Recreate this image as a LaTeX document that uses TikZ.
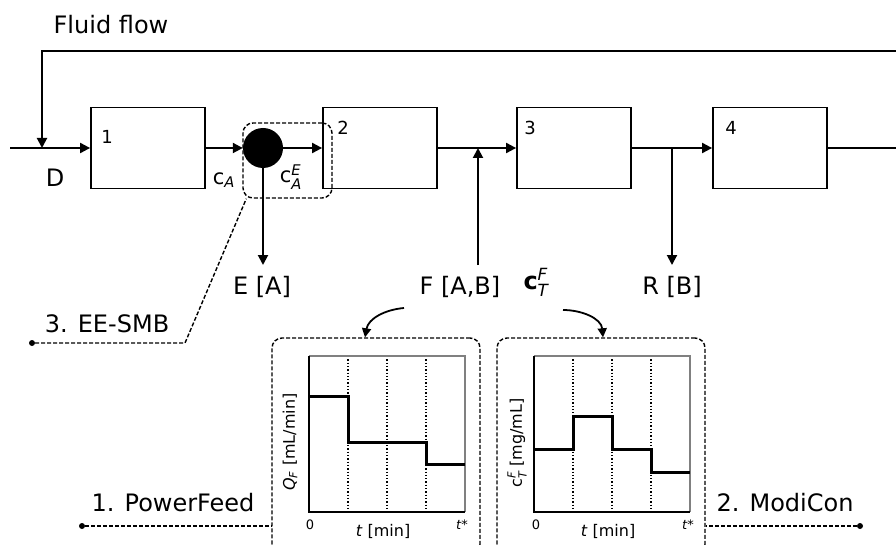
\documentclass[tikz,border=0pt]{standalone}
\usepackage{amsmath}
\usepackage{fontspec}
\setmainfont{DejaVu Sans}
\usetikzlibrary{arrows.meta,positioning}
\newcommand\bigtxt{\fontsize{24}{27}\selectfont}
\newcommand\midtxt{\fontsize{21}{23}\selectfont}
\newcommand\smalltxt{\fontsize{16}{18}\selectfont}
\newcommand\tinytxt{\fontsize{13}{14}\selectfont}

\begin{document}
\begin{tikzpicture}[x=1pt,y=-1pt,>={Triangle[length=10pt,width=10pt]},
 column/.style={draw,line width=1.8pt,minimum width=114pt,minimum height=81pt,inner sep=0pt},
 flow/.style={line width=2pt},
 dashline/.style={line width=1.4pt,dash pattern=on 4pt off 2pt},
 panel/.style={draw,dashline,rounded corners=10pt,minimum width=208pt,minimum height=216pt,inner sep=0pt},
 dot/.style={circle,fill,inner sep=0pt,minimum size=6pt},
 curvearrow/.style={line width=1.8pt,-{Triangle[length=9pt,width=9pt]}},
 profile/.style={line width=3pt},
 big/.style={font=\bigtxt}, mid/.style={font=\midtxt},
 small/.style={font=\smalltxt}, tiny/.style={font=\tinytxt}]
\useasboundingbox (0,0) rectangle (896,545);

\node[big] (title) at (111,25) {Fluid flow};
\node[column] (b1) at (148,148) {};
\node[column] (b2) at (380,148) {};
\node[column] (b3) at (574,148) {};
\node[column] (b4) at (770,148) {};
\node[font=\fontsize{18}{20}\selectfont] (n1) at (107,137) {1};
\node[font=\fontsize{18}{20}\selectfont] (n2) at (343,128) {2};
\node[font=\fontsize{18}{20}\selectfont] (n3) at (530,128) {3};
\node[font=\fontsize{18}{20}\selectfont] (n4) at (731,128) {4};
\node[circle,fill,minimum size=40pt,inner sep=0pt] (sep) at (263,148) {};
\node[draw,dashline,rounded corners=10pt,minimum width=89pt,minimum height=75pt] (sepbox) at (287.5,160.5) {};

\coordinate (inlet) at (10,148);
\coordinate (dj) at (42,148);
\coordinate (rec) at (900,51);
\coordinate (fj) at (478,148);
\coordinate (rj) at (672,148);
\coordinate (outlet) at (900,148);
\coordinate (ebot) at (263,265);
\coordinate (fbot) at (478,265);
\coordinate (rbot) at (672,265);

\draw[flow] (inlet) -- (dj);
\draw[flow,->] (dj) -- (b1.west);
\draw[flow,->] (rec) -| (dj);
\draw[flow,->] (b1.east) -- (sep.west);
\draw[flow,->] (sep.east) -- (b2.west);
\draw[flow,->] (sep.south) -- (ebot);
\draw[flow] (b2.east) -- (fj);
\draw[flow,->] (fj) -- (b3.west);
\draw[flow,->] (fbot) -- (fj);
\draw[flow] (b3.east) -- (rj);
\draw[flow,->] (rj) -- (b4.west);
\draw[flow,->] (rj) -- (rbot);
\draw[flow] (b4.east) -- (outlet);

\node[big] (dlab) at (55,178) {D};
\node[mid] (ca) at (224,180) {$\text{c}_{\text{\itshape A}}$};
\node[mid] (cae) at (291,177) {$\text{c}_{\text{\itshape A}}^{\text{\itshape E}}$};
\node[big] (elab) at (262,287) {E [A]};
\node[big] (flab) at (460,287) {F [A,B]};
\node[big] (ctf) at (536,282) {$\textbf{c}_{\text{\itshape T}}^{\text{\itshape F}}$};
\node[big] (rlab) at (672,287) {R [B]};

\node[dot] (eedot) at (32,343) {};
\node[big] (eelab) at (107,324) {3. EE-SMB};
\draw[dashline] (eedot) -- (185,343) -- ([xshift=4pt]sepbox.south west);

\node[panel] (lpanel) at (376,446) {};
\node[panel] (rpanel) at (601,446) {};
\coordinate (fa) at (404,308);
\coordinate (ca2) at (563,310);
\draw[curvearrow] (fa) to[out=185,in=80] ([xshift=-11pt]lpanel.north);
\draw[curvearrow] (ca2) to[out=0,in=95] ([xshift=2pt]rpanel.north);

\node[dot] (pfdot) at (82,526) {};
\node[big] (pflab) at (173,503) {1. PowerFeed};
\draw[dashline] (pfdot) -- (pfdot -| lpanel.west);
\node[dot] (mcdot) at (860,526) {};
\node[big] (mclab) at (785,503) {2. ModiCon};
\draw[dashline] (mcdot) -- (mcdot -| rpanel.east);

% feed flow rate profile
\foreach \x in {348,387,426} \draw[dotted,line width=1.3pt] (\x,356) -- (\x,512);
\draw[gray,line width=1.2pt] (309,356) -- (465,356) -- (465,512);
\draw[line width=1.8pt] (309,356) -- (309,512) -- (465,512);
\draw[profile] (309,396) -- (348,396) -- (348,442) -- (426,442) -- (426,464) -- (465,464);
\node[small,rotate=90] (qlab) at (290,442) {\textit{Q}\textsubscript{\textit{F}} [mL/min]};
\node[tiny] (l0) at (310,525) {0};
\node[small] (lt) at (383,531) {\textit{t} [min]};
\node[tiny] (lts) at (462,525) {\textit{t*}};

% feed concentration profile
\foreach \x in {573,612,651} \draw[dotted,line width=1.3pt] (\x,356) -- (\x,512);
\draw[gray,line width=1.2pt] (534,356) -- (690,356) -- (690,512);
\draw[line width=1.8pt] (534,356) -- (534,512) -- (690,512);
\draw[profile] (534,449) -- (573,449) -- (573,416) -- (612,416) -- (612,449) -- (651,449) -- (651,472) -- (690,472);
\node[small,rotate=90] (clab) at (517,443) {$\text{c}_{\text{\itshape T}}^{\text{\itshape F}}$ [mg/mL]};
\node[tiny] (r0) at (536,525) {0};
\node[small] (rt) at (608,531) {\textit{t} [min]};
\node[tiny] (rts) at (688,525) {\textit{t*}};
\end{tikzpicture}
\end{document}
